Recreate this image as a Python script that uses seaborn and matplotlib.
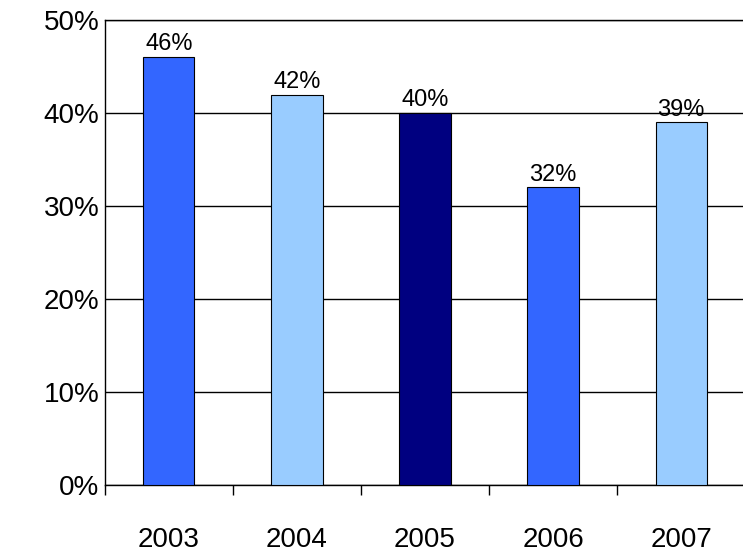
import matplotlib
matplotlib.use("Agg")
import matplotlib.pyplot as plt
import seaborn as sns
import pandas as pd
from matplotlib.ticker import FixedLocator

years = ['2003', '2004', '2005', '2006', '2007']
values = [46, 42, 40, 32, 39]
colors = ['#3366FF', '#99CCFF', '#000080', '#3366FF', '#99CCFF']

df = pd.DataFrame({'Year': years, 'Value': values})

sns.set_style("white")
plt.rcParams['font.family'] = ['Liberation Sans', 'DejaVu Sans']
plt.rcParams['text.color'] = 'black'
plt.rcParams['xtick.color'] = 'black'
plt.rcParams['ytick.color'] = 'black'

fig = plt.figure(figsize=(7.43, 5.6), dpi=100)
ax = fig.add_axes([0.141, 0.134, 0.862, 0.83])

sns.barplot(data=df, x='Year', y='Value', hue='Year', palette=colors,
            saturation=1, legend=False, width=0.4, edgecolor='black',
            linewidth=0.8, zorder=3, ax=ax)

for i, v in enumerate(values):
    ax.text(i, v + 0.2, f'{v}%', ha='center', va='bottom', fontsize=17, zorder=4)

ax.set_ylim(0, 50)
ax.set_xlim(-0.5, 4.5)
ax.set_yticks(range(0, 51, 10))
ax.set_yticklabels([f'{t}%' for t in range(0, 51, 10)], fontsize=20)
ax.yaxis.grid(True, color='black', linewidth=1, zorder=0)
ax.set_xlabel('')
ax.set_ylabel('')
ax.tick_params(axis='x', which='major', length=0, labelsize=20, pad=30)
ax.xaxis.set_minor_locator(FixedLocator([-0.5, 0.5, 1.5, 2.5, 3.5]))
ax.tick_params(axis='x', which='minor', length=7, width=1, color='black', direction='out', bottom=True)
ax.tick_params(axis='y', length=0, pad=4)
for s in ax.spines.values():
    s.set_color('black')
    s.set_linewidth(1)

plt.savefig('out.png', dpi=100)
